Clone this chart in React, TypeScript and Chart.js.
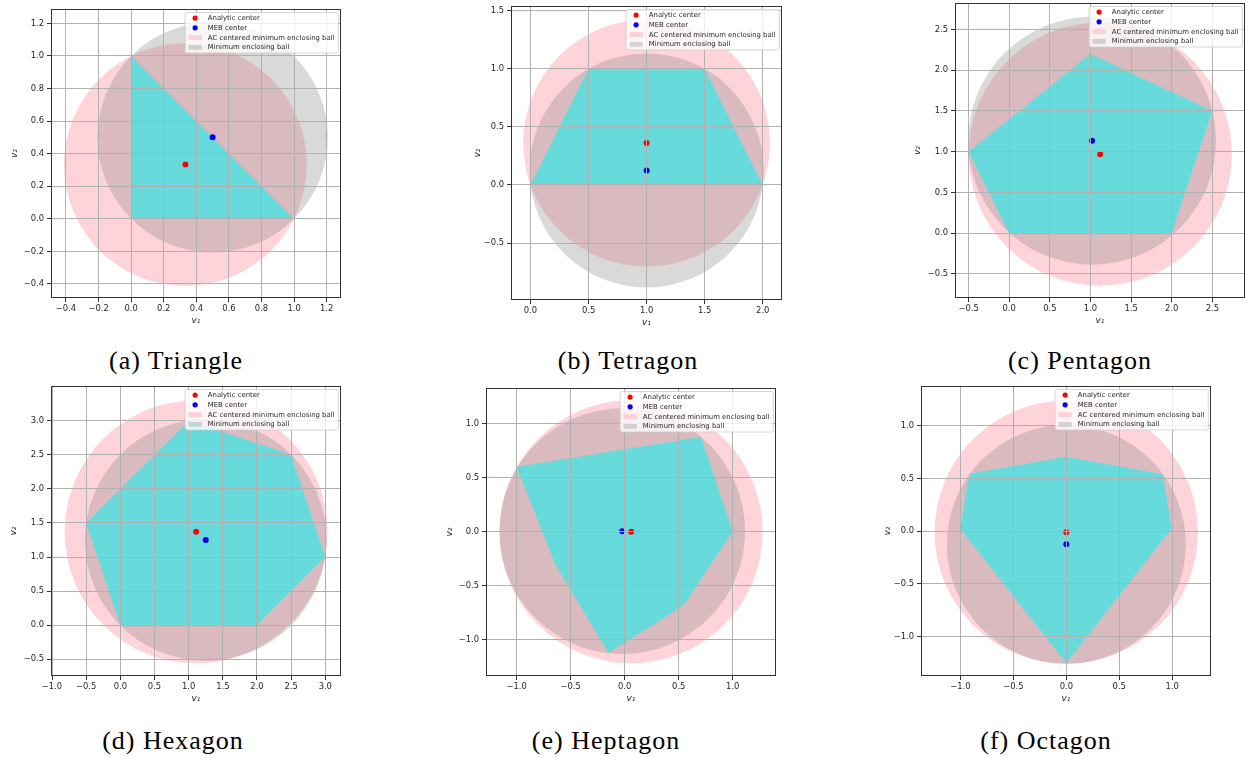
import React, { useEffect, useRef } from 'react';
import { Chart, registerables } from 'chart.js';

Chart.register(...registerables);
Chart.defaults.font.family = '"DejaVu Sans", sans-serif';

// ---- Series labels -------------------------------------------------------
const AC_LABEL = 'Analytic center';
const MEB_LABEL = 'MEB center';
const AC_BALL_LABEL = 'AC centered minimum enclosing ball';
const MEB_BALL_LABEL = 'Minimum enclosing ball';

// ---- (a) Triangle ---------------------------------------------------------
const triangleVertices = [[0, 0], [1, 0], [0, 1]];
const triangleAnalyticCenter = [0.333, 0.333];
const triangleMebCenter = [0.5, 0.5];
const triangleAcBallRadius = 0.745;
const triangleMebRadius = 0.707;
const triangleXTicks = [-0.4, -0.2, 0.0, 0.2, 0.4, 0.6, 0.8, 1.0, 1.2];
const triangleYTicks = [-0.4, -0.2, 0.0, 0.2, 0.4, 0.6, 0.8, 1.0, 1.2];
const triangleXRange = [-0.492, 1.288];
const triangleYRange = [-0.486, 1.288];

// ---- (b) Tetragon ---------------------------------------------------------
const tetragonVertices = [[0, 0], [2, 0], [1.5, 1], [0.5, 1]];
const tetragonAnalyticCenter = [1.0, 0.36];
const tetragonMebCenter = [1.0, 0.125];
const tetragonAcBallRadius = 1.063;
const tetragonMebRadius = 1.008;
const tetragonXTicks = [0.0, 0.5, 1.0, 1.5, 2.0];
const tetragonYTicks = [-0.5, 0.0, 0.5, 1.0, 1.5];
const tetragonXRange = [-0.168, 2.166];
const tetragonYRange = [-0.99, 1.54];

// ---- (c) Pentagon ---------------------------------------------------------
const pentagonVertices = [[0, 0], [2, 0], [2.5, 1.5], [1, 2.2], [-0.5, 1]];
const pentagonAnalyticCenter = [1.12, 0.97];
const pentagonMebCenter = [1.02, 1.135];
const pentagonAcBallRadius = 1.62;
const pentagonMebRadius = 1.525;
const pentagonXTicks = [-0.5, 0.0, 0.5, 1.0, 1.5, 2.0, 2.5];
const pentagonYTicks = [-0.5, 0.0, 0.5, 1.0, 1.5, 2.0, 2.5];
const pentagonXRange = [-0.667, 2.902];
const pentagonYRange = [-0.795, 2.825];

// ---- (d) Hexagon ----------------------------------------------------------
const hexagonVertices = [[0, 0], [2, 0], [3, 1], [2.5, 2.5], [1, 3], [-0.5, 1.5]];
const hexagonAnalyticCenter = [1.11, 1.37];
const hexagonMebCenter = [1.25, 1.25];
const hexagonAcBallRadius = 1.925;
const hexagonMebRadius = 1.768;
const hexagonXTicks = [-1.0, -0.5, 0.0, 0.5, 1.0, 1.5, 2.0, 2.5, 3.0];
const hexagonYTicks = [-0.5, 0.0, 0.5, 1.0, 1.5, 2.0, 2.5, 3.0];
const hexagonXRange = [-1.015, 3.23];
const hexagonYRange = [-0.745, 3.509];

// ---- (e) Heptagon ---------------------------------------------------------
const heptagonVertices = [[1.0, 0.0], [0.707, 0.88], [-1.0, 0.6], [-0.643, -0.3], [-0.149, -1.12], [0.544, -0.682]];
const heptagonAnalyticCenter = [0.06, 0.0];
const heptagonMebCenter = [-0.023, 0.006];
const heptagonAcBallRadius = 1.217;
const heptagonMebRadius = 1.137;
const heptagonXTicks = [-1.0, -0.5, 0.0, 0.5, 1.0];
const heptagonYTicks = [-1.0, -0.5, 0.0, 0.5, 1.0];
const heptagonXRange = [-1.283, 1.4];
const heptagonYRange = [-1.333, 1.33];

// ---- (f) Octagon ----------------------------------------------------------
const octagonVertices = [[0, 0.705], [0.91, 0.54], [0.995, 0.025], [0, -1.253], [-1.0, 0.02], [-0.915, 0.545]];
const octagonAnalyticCenter = [0.0, -0.01];
const octagonMebCenter = [0.0, -0.125];
const octagonAcBallRadius = 1.243;
const octagonMebRadius = 1.128;
const octagonXTicks = [-1.0, -0.5, 0.0, 0.5, 1.0];
const octagonYTicks = [-1.0, -0.5, 0.0, 0.5, 1.0];
const octagonXRange = [-1.372, 1.366];
const octagonYRange = [-1.373, 1.376];

// ---- Styling --------------------------------------------------------------
const AC_COLOR = '#ff0000';
const MEB_COLOR = '#0000ff';
const AC_BALL_COLOR = 'rgba(255, 192, 203, 0.7)';
const MEB_BALL_COLOR = 'rgba(128, 128, 128, 0.3)';
const POLYGON_COLOR = '#67dadc';
const TEXT_COLOR = '#262626';

const X_AXIS_HEIGHT = 28;
const PAD_TOP = 10;
const PAD_RIGHT = 20;

type PanelSpec = {
  caption: string;
  captionX: number;
  captionBaseline: number;
  box: { left: number; top: number; right: number; bottom: number; yAxisWidth: number };
  vertices: number[][];
  ac: number[];
  meb: number[];
  acRadius: number;
  mebRadius: number;
  xTicks: number[];
  yTicks: number[];
  xRange: number[];
  yRange: number[];
};

const panels: PanelSpec[] = [
  {
    caption: '(a) Triangle', captionX: 176, captionBaseline: 370,
    box: { left: 51, top: 9, right: 341, bottom: 298, yAxisWidth: 42 },
    vertices: triangleVertices, ac: triangleAnalyticCenter, meb: triangleMebCenter,
    acRadius: triangleAcBallRadius, mebRadius: triangleMebRadius,
    xTicks: triangleXTicks, yTicks: triangleYTicks, xRange: triangleXRange, yRange: triangleYRange,
  },
  {
    caption: '(b) Tetragon', captionX: 628, captionBaseline: 370,
    box: { left: 511, top: 6, right: 782, bottom: 300, yAxisWidth: 39 },
    vertices: tetragonVertices, ac: tetragonAnalyticCenter, meb: tetragonMebCenter,
    acRadius: tetragonAcBallRadius, mebRadius: tetragonMebRadius,
    xTicks: tetragonXTicks, yTicks: tetragonYTicks, xRange: tetragonXRange, yRange: tetragonYRange,
  },
  {
    caption: '(c) Pentagon', captionX: 1080, captionBaseline: 370,
    box: { left: 955, top: 3, right: 1245, bottom: 298, yAxisWidth: 43 },
    vertices: pentagonVertices, ac: pentagonAnalyticCenter, meb: pentagonMebCenter,
    acRadius: pentagonAcBallRadius, mebRadius: pentagonMebRadius,
    xTicks: pentagonXTicks, yTicks: pentagonYTicks, xRange: pentagonXRange, yRange: pentagonYRange,
  },
  {
    caption: '(d) Hexagon', captionX: 173, captionBaseline: 750,
    box: { left: 51, top: 386, right: 341, bottom: 676, yAxisWidth: 43 },
    vertices: hexagonVertices, ac: hexagonAnalyticCenter, meb: hexagonMebCenter,
    acRadius: hexagonAcBallRadius, mebRadius: hexagonMebRadius,
    xTicks: hexagonXTicks, yTicks: hexagonYTicks, xRange: hexagonXRange, yRange: hexagonYRange,
  },
  {
    caption: '(e) Heptagon', captionX: 606, captionBaseline: 750,
    box: { left: 486, top: 388, right: 776, bottom: 676, yAxisWidth: 42 },
    vertices: heptagonVertices, ac: heptagonAnalyticCenter, meb: heptagonMebCenter,
    acRadius: heptagonAcBallRadius, mebRadius: heptagonMebRadius,
    xTicks: heptagonXTicks, yTicks: heptagonYTicks, xRange: heptagonXRange, yRange: heptagonYRange,
  },
  {
    caption: '(f) Octagon', captionX: 1046, captionBaseline: 750,
    box: { left: 921, top: 386, right: 1211, bottom: 676, yAxisWidth: 39 },
    vertices: octagonVertices, ac: octagonAnalyticCenter, meb: octagonMebCenter,
    acRadius: octagonAcBallRadius, mebRadius: octagonMebRadius,
    xTicks: octagonXTicks, yTicks: octagonYTicks, xRange: octagonXRange, yRange: octagonYRange,
  },
];

// Tick labels use the typographic minus sign.
const formatTick = (v: number) => (v < -1e-9 ? '\u2212' : '') + Math.abs(v).toFixed(1);

// Ball radius is stored in data units and converted to pixels through the x scale.
const ballRadius = (ctx: any) => {
  const raw = ctx.raw as { rad?: number } | undefined;
  const sx = ctx.chart.scales.x;
  if (!raw || raw.rad == null || !sx) return 0;
  const px = Math.abs(sx.getPixelForValue(raw.rad) - sx.getPixelForValue(0));
  return Number.isFinite(px) ? px : 0;
};

// Draws the axes frame and a matplotlib-style legend in the upper right corner.
const frameAndLegend = {
  id: 'frameAndLegend',
  afterDraw(chart: any) {
    const { ctx, chartArea: a } = chart;
    ctx.save();
    ctx.strokeStyle = '#333333';
    ctx.lineWidth = 1;
    ctx.strokeRect(Math.round(a.left) + 0.5, Math.round(a.top) + 0.5,
      Math.round(a.right) - Math.round(a.left) - 1, Math.round(a.bottom) - Math.round(a.top) - 1);

    const items = chart.data.datasets.filter((d: any) => d.legendKind);
    ctx.font = '6.9px "DejaVu Sans"';
    const textW = Math.max(...items.map((d: any) => ctx.measureText(d.label).width));
    const w = textW + 26.5;
    const h = 40.5;
    const x = a.right - 2.7 - w;
    const y = a.top + 3.5;
    ctx.beginPath();
    ctx.roundRect(x, y, w, h, 2);
    ctx.fillStyle = 'rgba(255,255,255,0.8)';
    ctx.fill();
    ctx.strokeStyle = '#cccccc';
    ctx.lineWidth = 0.8;
    ctx.stroke();

    items.forEach((d: any, i: number) => {
      const cy = y + 5.6 + i * 9.75;
      ctx.fillStyle = d.backgroundColor;
      if (d.legendKind === 'dot') {
        ctx.beginPath();
        ctx.arc(x + 10, cy, 2.6, 0, Math.PI * 2);
        ctx.fill();
      } else {
        ctx.fillRect(x + 3.3, cy - 2.4, 13.4, 4.8);
      }
      ctx.fillStyle = TEXT_COLOR;
      ctx.textBaseline = 'middle';
      ctx.textAlign = 'left';
      ctx.fillText(d.label, x + 22.7, cy + 0.3);
    });
    ctx.restore();
  },
};

function buildConfig(p: PanelSpec): any {
  const tickFont = { size: 8.4, family: '"DejaVu Sans"' };
  const titleFont = { size: 9, family: '"DejaVu Sans"', style: 'italic' as const };
  const gridOpts = { color: '#b0b0b0', lineWidth: 1, tickLength: 4, tickColor: '#333333', z: 1 };
  return {
    type: 'scatter',
    data: {
      datasets: [
        {
          type: 'scatter', label: AC_LABEL, legendKind: 'dot',
          data: [{ x: p.ac[0], y: p.ac[1] }],
          backgroundColor: AC_COLOR, borderColor: AC_COLOR,
          pointRadius: 3, pointBorderWidth: 0, order: 0, clip: 0,
        },
        {
          type: 'scatter', label: MEB_LABEL, legendKind: 'dot',
          data: [{ x: p.meb[0], y: p.meb[1] }],
          backgroundColor: MEB_COLOR, borderColor: MEB_COLOR,
          pointRadius: 3, pointBorderWidth: 0, order: 1, clip: 0,
        },
        {
          type: 'scatter', label: AC_BALL_LABEL, legendKind: 'patch',
          data: [{ x: p.ac[0], y: p.ac[1], rad: p.acRadius }],
          backgroundColor: AC_BALL_COLOR, borderColor: 'rgba(0,0,0,0)',
          pointBackgroundColor: AC_BALL_COLOR, pointBorderWidth: 0,
          pointRadius: ballRadius, pointHoverRadius: ballRadius, order: 4, clip: 0,
        },
        {
          type: 'scatter', label: MEB_BALL_LABEL, legendKind: 'patch',
          data: [{ x: p.meb[0], y: p.meb[1], rad: p.mebRadius }],
          backgroundColor: MEB_BALL_COLOR, borderColor: 'rgba(0,0,0,0)',
          pointBackgroundColor: MEB_BALL_COLOR, pointBorderWidth: 0,
          pointRadius: ballRadius, pointHoverRadius: ballRadius, order: 3, clip: 0,
        },
        {
          type: 'line', label: 'polygon',
          data: p.vertices.map(([x, y]) => ({ x, y })),
          showLine: true, fill: 'shape', tension: 0,
          backgroundColor: POLYGON_COLOR, borderColor: POLYGON_COLOR, borderWidth: 0,
          pointRadius: 0, order: 2, clip: 0,
        },
      ],
    },
    options: {
      responsive: false,
      animation: false,
      devicePixelRatio: 1,
      events: [],
      layout: { padding: { top: PAD_TOP, right: PAD_RIGHT, bottom: 0, left: 0 } },
      plugins: { legend: { display: false }, tooltip: { enabled: false } },
      scales: {
        x: {
          type: 'linear', position: 'bottom',
          min: p.xRange[0], max: p.xRange[1],
          afterBuildTicks: (s: any) => { s.ticks = p.xTicks.map((value) => ({ value })); },
          afterFit: (s: any) => { s.height = X_AXIS_HEIGHT; },
          ticks: { callback: (v: any) => formatTick(Number(v)), font: tickFont, color: TEXT_COLOR, padding: 2, maxRotation: 0, autoSkip: false },
          grid: gridOpts,
          border: { display: false },
          title: { display: true, text: 'v\u2081', font: titleFont, color: TEXT_COLOR, padding: 0 },
        },
        y: {
          type: 'linear', position: 'left',
          min: p.yRange[0], max: p.yRange[1],
          afterBuildTicks: (s: any) => { s.ticks = p.yTicks.map((value) => ({ value })); },
          afterFit: (s: any) => { s.width = p.box.yAxisWidth; },
          ticks: { callback: (v: any) => formatTick(Number(v)), font: tickFont, color: TEXT_COLOR, padding: 3, autoSkip: false },
          grid: gridOpts,
          border: { display: false },
          title: { display: true, text: 'v\u2082', font: titleFont, color: TEXT_COLOR, padding: 0 },
        },
      },
    },
    plugins: [frameAndLegend],
  };
}

function Panel({ spec }: { spec: PanelSpec }) {
  const ref = useRef<HTMLCanvasElement>(null);
  const { left, top, right, bottom, yAxisWidth } = spec.box;
  const cw = yAxisWidth + (right - left) + PAD_RIGHT;
  const ch = PAD_TOP + (bottom - top) + X_AXIS_HEIGHT;

  useEffect(() => {
    if (!ref.current) return;
    const chart = new Chart(ref.current, buildConfig(spec));
    return () => chart.destroy();
  }, [spec]);

  return (
    <>
      <canvas
        ref={ref}
        width={cw}
        height={ch}
        style={{ position: 'absolute', left: left - yAxisWidth, top: top - PAD_TOP, width: cw, height: ch }}
      />
      <div
        style={{
          position: 'absolute',
          left: spec.captionX - 160,
          width: 320,
          top: spec.captionBaseline - 23.8,
          textAlign: 'center',
          fontFamily: '"Liberation Serif", serif',
          fontSize: 26,
          lineHeight: '30px',
          letterSpacing: '1px',
          color: '#000',
          whiteSpace: 'nowrap',
        }}
      >
        {spec.caption}
      </div>
    </>
  );
}

export default function App() {
  return (
    <div style={{ position: 'absolute', left: 0, top: 0, width: 1249, height: 757, background: '#fff', overflow: 'hidden' }}>
      {panels.map((p) => (
        <Panel key={p.caption} spec={p} />
      ))}
    </div>
  );
}
